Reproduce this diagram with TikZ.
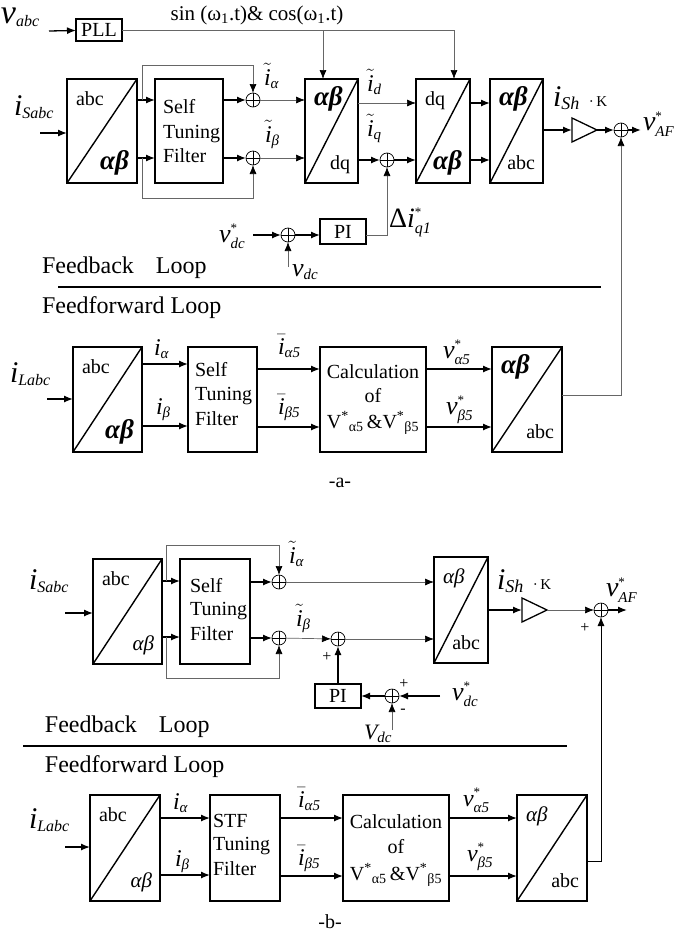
\documentclass[tikz,border=0pt]{standalone}
\usepackage{fontspec}
\usepackage{amsmath}
\setmainfont{Liberation Serif}
\usetikzlibrary{arrows.meta}
\newcommand{\fs}[1]{\fontsize{#1}{#1}\selectfont}
\newcommand{\Lb}[4]{{\fs{#1}$#2_{\text{\fs{#3}\itshape #4}}$}}
\newcommand{\Ls}[4]{{\fs{#1}$#2^{\text{\fs{13}*}}_{\text{\fs{#3}\itshape #4}}$}}
\newcommand{\bab}{{\fs{27}\bfseries\itshape αβ}}
\newcommand{\iab}{{\fs{21}\itshape αβ}}
\newcommand{\tfb}[7]{%
 \node[blk, anchor=north west, minimum width={(#4)-(#2)}, minimum height={(#5)-(#3)}] (#1) at (#2,#3) {};
 \draw[line width=1.4pt] (#1.south west) -- (#1.north east);
 \node[txt, anchor=base west] at ([shift={(9,26)}]#1.north west) {#6};
 \node[txt, anchor=base east] at ([shift={(-8,-14)}]#1.south east) {#7};
}
\tikzset{
 thk/.style={line width=1.3pt},
 thn/.style={line width=0.7pt, draw=black!60},
 arr/.style={-{Latex[length=9pt,width=7pt,color=black]}},
 blk/.style={draw, line width=1.4pt, inner sep=0, outer sep=0},
 sumc/.style={circle, draw, line width=0.7pt, minimum size=14pt, inner sep=0, outer sep=0,
   path picture={\draw[line width=0.7pt] (path picture bounding box.north) -- (path picture bounding box.south) (path picture bounding box.west) -- (path picture bounding box.east);}},
 txt/.style={inner sep=0, outer sep=0},
}
\begin{document}
\begin{tikzpicture}[x=1pt,y=-1pt,font=\fs{20}]
\fill[white] (0,0) rectangle (682,935);
\useasboundingbox (0,0) rectangle (682,935);
% ================= part a =================
\node[blk, line width=1.2pt, minimum width=46pt, minimum height=22pt] (pll) at (99,30) {PLL};
\node[txt, anchor=base west] (vabc) at (1,23) {\Lb{34}{\text{\itshape v}}{16}{abc}};
\coordinate (vabcE) at (49,31);
\draw[thk,arr] (vabcE) -- (pll);
\node[txt, font=\fs{21}] (sintxt) at (257,15) {sin (ω\textsubscript{1}.t)\& cos(ω\textsubscript{1}.t)};

\tfb{b1}{67}{79}{137}{183}{abc}{\bab}
\node[txt, anchor=base west] (iSa) at (14,115) {\Lb{30}{\text{\itshape i}}{16}{Sabc}};
\coordinate (iSaE) at (40,133);
\draw[thk,arr] (iSaE) -- (iSaE -| b1.west);

\node[blk, anchor=north west, minimum width=68pt, minimum height=104pt] (stf1) at (155,79) {};
\node[txt, anchor=base west] (stf1a) at (163,113) {Self};
\node[txt, anchor=base west] (stf1b) at (163,138) {Tuning};
\node[txt, anchor=base west] (stf1c) at (163,162) {Filter};
\draw[thk,arr] (b1.east |- 0,100) -- (stf1.west |- 0,100);
\draw[thk,arr] (b1.east |- 0,158) -- (stf1.west |- 0,158);

\node[sumc] (sa) at (253,100) {};
\node[sumc] (sb) at (253,158) {};
\coordinate (ja1) at (142,100);
\coordinate (ja2) at (142,158);
\draw[thn,arr] (ja1) -- (142,65) -| (sa);
\draw[thn,arr] (ja2) -- (142,198) -| (sb);
\draw[thk,arr] (stf1.east |- sa) -- (sa);
\draw[thk,arr] (stf1.east |- sb) -- (sb);
\node[txt, anchor=base west] (lia) at (264,85) {\Lb{24}{\tilde{\text{\itshape i}}}{15}{α}};
\node[txt, anchor=base west] (lib) at (265,142) {\Lb{24}{\tilde{\text{\itshape i}}}{15}{β}};

\tfb{b3}{305}{79}{358}{183}{\bab}{dq}
\draw[thn,arr] (sa) -- (sa -| b3.west);
\draw[thn,arr] (sb) -- (sb -| b3.west);
\coordinate (t3) at ([xshift=-8.5pt]b3.north);

\tfb{b4}{416}{79}{470}{183}{dq}{\bab}
\coordinate (t4) at ([xshift=11pt]b4.north);
\draw[thn] (pll.east) -- (t4 |- pll.east);
\draw[thn,arr] (t4 |- pll.east) -- (t4);
\draw[thn,arr] (t3 |- pll.east) -- (t3);

\node[sumc] (sq) at (387,160) {};
\draw[thn,arr] (b3.east |- 0,103) -- (b4.west |- 0,103);
\draw[thk,arr] (b3.east |- sq) -- (sq);
\draw[thk,arr] (sq) -- (sq -| b4.west);
\node[txt, anchor=base west] (lid) at (367,91) {\Lb{24}{\tilde{\text{\itshape i}}}{15}{d}};
\node[txt, anchor=base west] (liq) at (367,136) {\Lb{24}{\tilde{\text{\itshape i}}}{15}{q}};

\tfb{b5}{490}{79}{543}{183}{\bab}{abc}
\draw[thk,arr] (b4.east |- 0,103) -- (b5.west |- 0,103);
\draw[thk,arr] (b4.east |- 0,160) -- (b5.west |- 0,160);

\coordinate (g1i) at (572,130);
\coordinate (g1o) at (597,130);
\draw[thk] (572,118) -- (g1o) -- (572,142) -- cycle;
\draw[thk,arr] (b5.east |- g1i) -- (g1i);
\node[sumc] (so) at (621,130) {};
\draw[thk,arr] (g1o) -- (so);
\coordinate (vafE) at (641,130);
\draw[thk,arr] (so) -- (vafE);
\node[txt, anchor=base west] (vaf) at (643,130) {\Ls{28}{\text{\itshape v}}{15}{AF}};
\node[txt, anchor=base west] (ish) at (553,106) {\Lb{30}{\text{\itshape i}}{18}{Sh}\hspace{9pt}{\fs{15}·\,K}};

% PI loop a
\node[sumc] (sdc) at (288,235) {};
\node[blk, line width=1.2pt, minimum width=46pt, minimum height=25pt] (pi1) at (343,231.5) {PI};
\coordinate (vdcsE) at (253,235);
\draw[thk,arr] (vdcsE) -- (sdc);
\draw[thk,arr] (sdc) -- (pi1.west |- sdc);
\coordinate (vdcB) at (288,267);
\draw[thn,arr] (vdcB) -- (sdc);
\draw[thn,arr] (pi1.east |- sdc) -| (sq);
\node[txt, anchor=base west] (lvdcs) at (219,242) {\Ls{26}{\text{\itshape v}}{15}{dc}};
\node[txt, anchor=base west] (lvdc) at (292,276) {\Lb{26}{\text{\itshape v}}{15}{dc}};
\node[txt, anchor=base west] (ldq) at (389,227) {\Ls{28}{\text{Δ\itshape i}}{16}{q1}};

\node[txt, anchor=base west, font=\fs{24}] (fb1) at (42,273) {Feedback\hspace{22pt}Loop};
\coordinate (la1) at (58,287);
\coordinate (la2) at (601,287);
\draw[line width=1.5pt] (la1) -- (la2);
\node[txt, anchor=base west, font=\fs{24}] (ff1) at (42,313) {Feedforward Loop};

% feedforward a
\tfb{c1}{73}{347}{142}{452}{abc}{\bab}
\node[txt, anchor=base west] (iLa) at (10,382) {\Lb{30}{\text{\itshape i}}{16}{Labc}};
\coordinate (iLaE) at (47,399);
\draw[thk,arr] (iLaE) -- (iLaE -| c1.west);
\node[blk, anchor=north west, minimum width=69pt, minimum height=105pt] (c2) at (188,347) {};
\node[txt, anchor=base west] (c2a) at (195,376) {Self};
\node[txt, anchor=base west] (c2b) at (195,400) {Tuning};
\node[txt, anchor=base west] (c2c) at (195,425) {Filter};
\draw[thk,arr] (c1.east |- 0,364) -- (c2.west |- 0,364);
\draw[thk,arr] (c1.east |- 0,426) -- (c2.west |- 0,426);
\node[txt, anchor=base west] (lfa) at (154,355) {\Lb{24}{\text{\itshape i}}{15}{α}};
\node[txt, anchor=base west] (lfb) at (156,414) {\Lb{24}{\text{\itshape i}}{15}{β}};
\node[blk, anchor=north west, minimum width=106pt, minimum height=105pt] (c3) at (320,347) {};
\node[txt, anchor=base] (c3a) at (373,378) {Calculation};
\node[txt, anchor=base] (c3b) at (373,402) {of};
\node[txt, anchor=base] (c3c) at (373,428) {V\textsuperscript{*}\textsubscript{α5}\,\&V\textsuperscript{*}\textsubscript{β5}};
\draw[thk,arr] (c2.east |- 0,369) -- (c3.west |- 0,369);
\draw[thk,arr] (c2.east |- 0,427) -- (c3.west |- 0,427);
\node[txt, anchor=base west] (lba) at (278,354) {\Lb{24}{\bar{\text{\itshape i}}}{15}{α5}};
\node[txt, anchor=base west] (lbb) at (278,414) {\Lb{24}{\bar{\text{\itshape i}}}{15}{β5}};
\tfb{c4}{492}{347}{562}{452}{\bab}{abc}
\draw[thk,arr] (c3.east |- 0,369) -- (c4.west |- 0,369);
\draw[thk,arr] (c3.east |- 0,427) -- (c4.west |- 0,427);
\node[txt, anchor=base west] (lva) at (443,358) {\Ls{26}{\text{\itshape v}}{15}{α5}};
\node[txt, anchor=base west] (lvb) at (446,414) {\Ls{26}{\text{\itshape v}}{15}{β5}};
\draw[thn,arr] (c4.east |- 0,395) -| (so);
\node[txt] (capa) at (340,483) {-a-};

% ================= part b =================
\tfb{d1}{93}{559}{162}{664}{abc}{\iab}
\node[txt, anchor=base west] (iSb) at (29,589) {\Lb{30}{\text{\itshape i}}{16}{Sabc}};
\coordinate (iSbE) at (65,613);
\draw[thk,arr] (iSbE) -- (iSbE -| d1.west);
\node[blk, anchor=north west, minimum width=70pt, minimum height=105pt] (d2) at (180,559) {};
\node[txt, anchor=base west] (d2a) at (190,592) {Self};
\node[txt, anchor=base west] (d2b) at (190,615) {Tuning};
\node[txt, anchor=base west] (d2c) at (190,640) {Filter};
\draw[thk,arr] (d1.east |- 0,581) -- (d2.west |- 0,581);
\draw[thk,arr] (d1.east |- 0,637) -- (d2.west |- 0,637);
\node[sumc] (ta) at (279,582) {};
\node[sumc] (tb) at (279,638) {};
\coordinate (jb1) at (166,581);
\coordinate (jb2) at (166,637);
\draw[thn,arr] (jb1) -- (166,545) -| (ta);
\draw[thn,arr] (jb2) -- (166,678) -| (tb);
\draw[thk,arr] (d2.east |- ta) -- (ta);
\draw[thk,arr] (d2.east |- tb) -- (tb);
\node[txt, anchor=base west] (lja) at (289,563) {\Lb{24}{\tilde{\text{\itshape i}}}{15}{α}};
\node[txt, anchor=base west] (ljb) at (296,626) {\Lb{24}{\tilde{\text{\itshape i}}}{15}{β}};
\node[sumc] (tb2) at (338,639) {};
\draw[thn,arr] (tb) -- (tb2);
\tfb{d3}{434}{557}{488}{663}{\iab}{abc}
\draw[thn,arr] (ta) -- (ta -| d3.west);
\draw[thn,arr] (tb2) -- (tb2 -| d3.west);
\node[blk, line width=1.2pt, minimum width=46pt, minimum height=24pt] (pi2) at (338,696) {PI};
\draw[thk,arr] (pi2) -- (tb2);
\node[sumc] (tdc) at (392,696) {};
\draw[thk,arr] (tdc) -- (pi2);
\coordinate (vdsE) at (440,696);
\draw[thk,arr] (vdsE) -- (tdc);
\coordinate (Vdc) at (392,730);
\draw[thn,arr] (Vdc) -- (tdc);
\node[txt, font=\fs{16}] (p1) at (327,657) {+};
\node[txt, font=\fs{16}] (p2) at (404,684) {+};
\node[txt, font=\fs{16}] (p3) at (403,711) {-};
\node[txt, anchor=base west] (lvds) at (452,700) {\Ls{26}{\text{\itshape v}}{15}{dc}};
\node[txt, anchor=base west] (lVdc) at (364,739) {\Lb{22}{\text{\itshape V}}{15}{dc}};

\coordinate (g2i) at (522,610);
\coordinate (g2o) at (547,610);
\draw[thk] (522,598) -- (g2o) -- (522,622) -- cycle;
\draw[thk,arr] (d3.east |- g2i) -- (g2i);
\node[sumc] (to) at (601,610) {};
\draw[thn,arr] (g2o) -- (to);
\coordinate (vafbE) at (627,610);
\draw[thk,arr] (to) -- (vafbE);
\node[txt, font=\fs{16}] (p4) at (585,628) {+};
\node[txt, anchor=base west] (vafb) at (606,596) {\Ls{28}{\text{\itshape v}}{15}{AF}};
\node[txt, anchor=base west] (ishb) at (497,589) {\Lb{30}{\text{\itshape i}}{18}{Sh}\hspace{9pt}{\fs{15}·\,K}};

\node[txt, anchor=base west, font=\fs{24}] (fb2) at (45,732) {Feedback\hspace{22pt}Loop};
\coordinate (lb1) at (23,746);
\coordinate (lb2) at (567,746);
\draw[line width=1.5pt] (lb1) -- (lb2);
\node[txt, anchor=base west, font=\fs{24}] (ff2) at (45,772) {Feedforward Loop};

% feedforward b
\tfb{e1}{90}{795}{160}{901}{abc}{\iab}
\node[txt, anchor=base west] (iLb) at (29,828) {\Lb{30}{\text{\itshape i}}{16}{Labc}};
\coordinate (iLbE) at (65,847);
\draw[thk,arr] (iLbE) -- (iLbE -| e1.west);
\node[blk, anchor=north west, minimum width=70pt, minimum height=106pt] (e2) at (210,795) {};
\node[txt, anchor=base west] (e2a) at (213,827) {STF};
\node[txt, anchor=base west] (e2b) at (213,850) {Tuning};
\node[txt, anchor=base west] (e2c) at (213,875) {Filter};
\draw[thk,arr] (e1.east |- 0,818) -- (e2.west |- 0,818);
\draw[thk,arr] (e1.east |- 0,875) -- (e2.west |- 0,875);
\node[txt, anchor=base west] (lga) at (173,809) {\Lb{24}{\text{\itshape i}}{15}{α}};
\node[txt, anchor=base west] (lgb) at (175,866) {\Lb{24}{\text{\itshape i}}{15}{β}};
\node[blk, anchor=north west, minimum width=106pt, minimum height=106pt] (e3) at (343,795) {};
\node[txt, anchor=base] (e3a) at (396,828) {Calculation};
\node[txt, anchor=base] (e3b) at (396,853) {of};
\node[txt, anchor=base] (e3c) at (396,880) {V\textsuperscript{*}\textsubscript{α5}\,\&V\textsuperscript{*}\textsubscript{β5}};
\draw[thk,arr] (e2.east |- 0,818) -- (e3.west |- 0,818);
\draw[thk,arr] (e2.east |- 0,876) -- (e3.west |- 0,876);
\node[txt, anchor=base west] (lca) at (298,807) {\Lb{24}{\bar{\text{\itshape i}}}{15}{α5}};
\node[txt, anchor=base west] (lcb) at (298,865) {\Lb{24}{\bar{\text{\itshape i}}}{15}{β5}};
\tfb{e4}{517}{795}{587}{901}{\iab}{abc}
\draw[thk,arr] (e3.east |- 0,818) -- (e4.west |- 0,818);
\draw[thk,arr] (e3.east |- 0,876) -- (e4.west |- 0,876);
\node[txt, anchor=base west] (lwa) at (463,806) {\Ls{24}{\text{\itshape v}}{15}{α5}};
\node[txt, anchor=base west] (lwb) at (467,861) {\Ls{24}{\text{\itshape v}}{15}{β5}};
\draw[line width=0.8pt, arr] (e4.east |- 0,861) -| (to);
\node[txt] (capb) at (330,922) {-b-};
\end{tikzpicture}
\end{document}
